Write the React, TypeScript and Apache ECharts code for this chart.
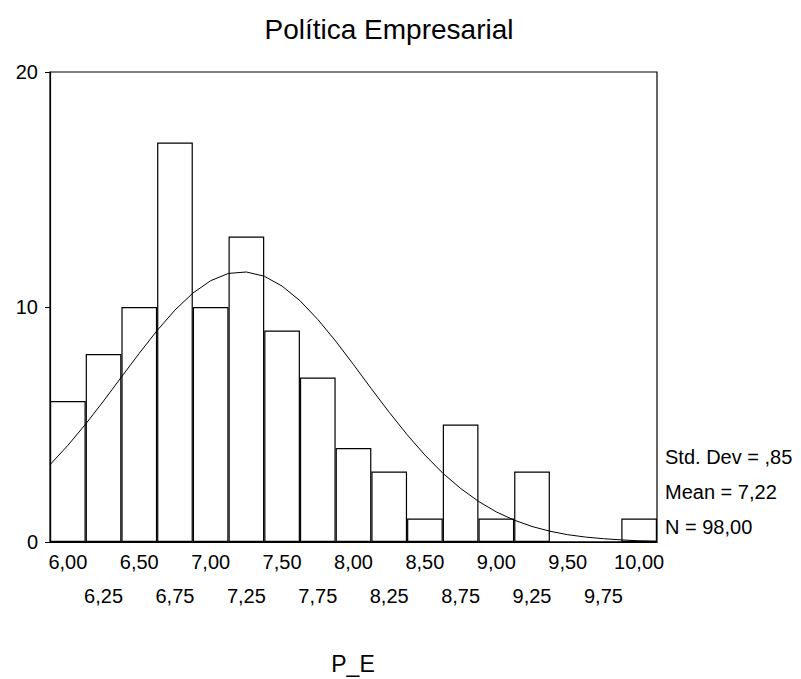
import React, { useEffect, useRef } from "react";
import * as echarts from "echarts";

const binLabels = ["6,00", "6,25", "6,50", "6,75", "7,00", "7,25", "7,50", "7,75", "8,00", "8,25", "8,50", "8,75", "9,00", "9,25", "9,50", "9,75", "10,00"];
const counts = [6, 8, 10, 17, 10, 13, 9, 7, 4, 3, 1, 5, 1, 3, 0, 0, 1];

const curveX = [5.875, 6.0, 6.125, 6.25, 6.375, 6.5, 6.625, 6.75, 6.875, 7.0, 7.125, 7.25, 7.375, 7.5, 7.625, 7.75, 7.875, 8.0, 8.125, 8.25, 8.375, 8.5, 8.625, 8.75, 8.875, 9.0, 9.125, 9.25, 9.375, 9.5, 9.625, 9.75, 9.875, 10.0, 10.125];
const curveY = [3.29, 4.11, 5.02, 6.0, 7.02, 8.03, 9.0, 9.87, 10.59, 11.12, 11.43, 11.49, 11.31, 10.89, 10.27, 9.47, 8.55, 7.55, 6.52, 5.52, 4.57, 3.7, 2.93, 2.28, 1.73, 1.28, 0.93, 0.66, 0.46, 0.31, 0.21, 0.14, 0.09, 0.05, 0.03];

const yTicks = [0, 10, 20];
const titleText = "Política Empresarial";
const xAxisName = "P_E";
const statsLines = ["Std. Dev = ,85", "Mean = 7,22", "N = 98,00"];

const FONT = "'Liberation Sans', Arial, sans-serif";

export default function App() {
  const ref = useRef<HTMLDivElement>(null);
  useEffect(() => {
    if (!ref.current) return;
    const chart = echarts.init(ref.current, undefined, { renderer: "svg" });
    chart.setOption({
      animation: false,
      backgroundColor: "#fff",
      textStyle: { fontFamily: FONT },
      grid: {
        left: 50,
        right: 144,
        top: 72,
        bottom: 137,
        show: true,
        borderColor: "#000",
        borderWidth: 1.2,
        backgroundColor: "transparent",
      },
      xAxis: [
        {
          type: "category",
          data: binLabels,
          boundaryGap: true,
          axisLine: { lineStyle: { color: "#000", width: 1.2 } },
          axisTick: { alignWithLabel: true, length: 5, lineStyle: { color: "#000" } },
          axisLabel: {
            interval: 0,
            margin: 10,
            color: "#000",
            fontFamily: FONT,
            fontSize: 20,
            formatter: (v: string, i: number) => (i % 2 === 0 ? `{a|${v}}` : `{b|${v}}`),
            rich: {
              a: { fontSize: 20, fontFamily: FONT, color: "#000" },
              b: { fontSize: 20, fontFamily: FONT, color: "#000", padding: [34, 0, 0, 0] },
            },
          },
          splitLine: { show: false },
        },
        {
          type: "value",
          min: curveX[0],
          max: curveX[curveX.length - 1],
          show: false,
          splitLine: { show: false },
        },
      ],
      yAxis: {
        type: "value",
        min: yTicks[0],
        max: yTicks[yTicks.length - 1],
        interval: 10,
        axisLine: { show: true, lineStyle: { color: "#000", width: 1.2 } },
        axisTick: { show: true, length: 5, lineStyle: { color: "#000" } },
        axisLabel: { margin: 12, color: "#000", fontFamily: FONT, fontSize: 20 },
        splitLine: { show: false },
      },
      series: [
        {
          type: "bar",
          xAxisIndex: 0,
          data: counts,
          barCategoryGap: "0%",
          itemStyle: { color: "#fff", borderColor: "#000", borderWidth: 1.2 },
          z: 2,
        },
        {
          type: "line",
          xAxisIndex: 1,
          data: curveX.map((x, i) => [x, curveY[i]]),
          showSymbol: false,
          symbol: "none",
          smooth: false,
          lineStyle: { color: "#000", width: 1 },
          z: 3,
        },
      ],
      graphic: [
        {
          type: "text",
          x: 389,
          y: 29,
          style: { text: titleText, font: `28px ${FONT}`, fill: "#000", align: "center", verticalAlign: "middle" },
        },
        {
          type: "text",
          x: 353,
          y: 664,
          style: { text: xAxisName, font: `23px ${FONT}`, fill: "#000", align: "center", verticalAlign: "middle" },
        },
        ...statsLines.map((t, i) => ({
          type: "text",
          x: 665,
          y: 457 + i * 35,
          style: { text: t, font: `20px ${FONT}`, fill: "#000", align: "left", verticalAlign: "middle" },
        })),
      ],
    });
    return () => chart.dispose();
  }, []);
  return <div ref={ref} style={{ position: "fixed", left: 0, top: 0, width: 801, height: 679 }} />;
}
